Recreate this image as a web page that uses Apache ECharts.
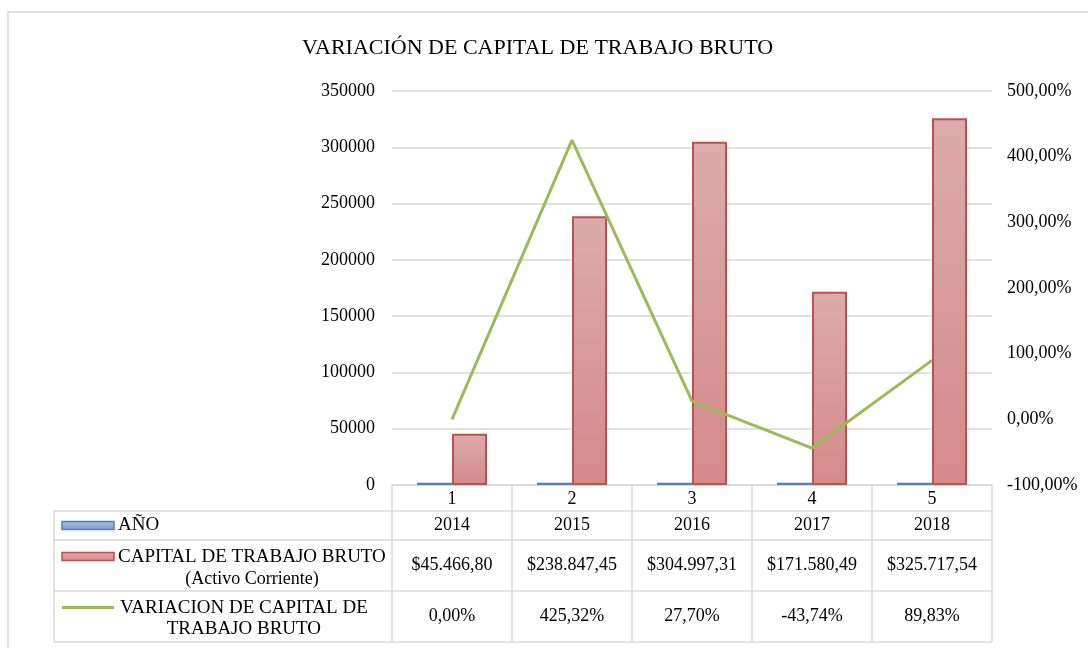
<!DOCTYPE html>
<html>
<head>
<meta charset="utf-8">
<script src="https://cdn.jsdelivr.net/npm/echarts@6/dist/echarts.min.js"></script>
<style>
  html, body { margin: 0; padding: 0; background: #ffffff; }
  #chart { width: 1088px; height: 648px; }
</style>
</head>
<body>
<div id="chart"></div>
<script>
// Chart data
const categories = ['1', '2', '3', '4', '5'];
const years = [2014, 2015, 2016, 2017, 2018];
const capital = [45466.80, 238847.45, 304997.31, 171580.49, 325717.54];
const variation = [0.00, 425.32, 27.70, -43.74, 89.83];

const titleText = 'VARIACIÓN DE CAPITAL DE TRABAJO BRUTO';
const seriesNames = ['AÑO', 'CAPITAL DE TRABAJO BRUTO', 'VARIACION DE CAPITAL DE TRABAJO BRUTO'];

const FONT = '"Liberation Serif", "Times New Roman", serif';
const GRID_COLOR = '#d9d9d9';

function money(v) {
  const parts = v.toFixed(2).split('.');
  return '$' + parts[0].replace(/\B(?=(\d{3})+(?!\d))/g, '.') + ',' + parts[1];
}
function pct(v) {
  return v.toFixed(2).replace('.', ',') + '%';
}

const ctx = document.createElement('canvas').getContext('2d');
function textWidth(str, size) {
  ctx.font = size + 'px ' + FONT;
  return ctx.measureText(str).width;
}

const blueFill = new echarts.graphic.LinearGradient(0, 0, 0, 1, [
  { offset: 0, color: '#a9c0df' }, { offset: 1, color: '#7e9dd0' }
]);
const redFill = new echarts.graphic.LinearGradient(0, 0, 0, 1, [
  { offset: 0, color: '#dcabab' }, { offset: 1, color: '#d48a8a' }
]);

const chart = echarts.init(document.getElementById('chart'), null, { renderer: 'canvas' });

const TITLE_SIZE = 22;
const titleCenter = 538;

chart.setOption({
  animation: false,
  backgroundColor: '#ffffff',
  title: {
    text: titleText,
    padding: 0,
    left: Math.round(titleCenter - textWidth(titleText, TITLE_SIZE) / 2),
    top: 37,
    textStyle: { fontFamily: FONT, fontSize: TITLE_SIZE, fontWeight: 'normal', color: '#000' }
  },
  grid: { left: 392, right: 96, top: 91, bottom: 163, containLabel: false },
  xAxis: {
    type: 'category',
    data: categories,
    axisLine: { show: true, lineStyle: { color: GRID_COLOR, width: 1.5 } },
    axisTick: { show: true, length: 157, interval: 0, lineStyle: { color: GRID_COLOR, width: 1.5 } },
    axisLabel: { margin: 5, fontFamily: FONT, fontSize: 18, color: '#000' }
  },
  yAxis: [
    {
      type: 'value', min: 0, max: 350000, interval: 50000,
      axisLine: { show: false }, axisTick: { show: false },
      splitLine: { show: true, lineStyle: { color: GRID_COLOR, width: 1.5 } },
      axisLabel: { margin: 17, fontFamily: FONT, fontSize: 18, color: '#000', formatter: v => String(v) }
    },
    {
      type: 'value', min: -100, max: 500, interval: 100,
      axisLine: { show: false }, axisTick: { show: false },
      splitLine: { show: false },
      axisLabel: { margin: 15, fontFamily: FONT, fontSize: 18, color: '#000', formatter: v => pct(v) }
    }
  ],
  series: [
    {
      name: seriesNames[0], type: 'bar', yAxisIndex: 0, data: years,
      barWidth: 35, barGap: '0%',
      itemStyle: { color: blueFill, borderColor: '#4f81bd', borderWidth: 1.5 }
    },
    {
      name: seriesNames[1], type: 'bar', yAxisIndex: 0, data: capital,
      barWidth: 35, barGap: '0%',
      itemStyle: { color: redFill, borderColor: '#c0504d', borderWidth: 2 }
    },
    {
      name: seriesNames[2], type: 'line', yAxisIndex: 1, data: variation,
      symbol: 'none', z: 5,
      lineStyle: { color: '#9bbb59', width: 3 }
    }
  ]
});

// Data table under the plot, positioned from the axes
const x0 = chart.convertToPixel({ xAxisIndex: 0 }, categories[0]);
const x1 = chart.convertToPixel({ xAxisIndex: 0 }, categories[1]);
const band = x1 - x0;
const plotLeft = x0 - band / 2;
const plotRight = plotLeft + band * categories.length;
const axisY = chart.convertToPixel({ yAxisIndex: 0 }, 0);

const rowBottoms = [axisY + 26, axisY + 55, axisY + 106, axisY + 157];
const tableLeft = 54;
const keyLeft = 62, keyWidth = 52, textLeft = 118;
const LEG_SIZE = 19;

const graphics = [];
const lineStyle = { stroke: GRID_COLOR, lineWidth: 1.5 };

// outer chart frame
graphics.push({ type: 'rect', shape: { x: 8, y: 12, width: 1200, height: 800 },
  style: { fill: null, stroke: GRID_COLOR, lineWidth: 1.5 }, silent: true });

// horizontal rules of the table
rowBottoms.forEach(y => {
  graphics.push({ type: 'line', shape: { x1: tableLeft, y1: y, x2: plotRight, y2: y }, style: lineStyle });
});
graphics.push({ type: 'line', shape: { x1: tableLeft, y1: rowBottoms[0], x2: tableLeft, y2: rowBottoms[3] }, style: lineStyle });

// cell values
const rows = [
  years.map(String),
  capital.map(money),
  variation.map(pct)
];
rows.forEach((vals, r) => {
  const yc = (rowBottoms[r] + rowBottoms[r + 1]) / 2;
  vals.forEach((s, i) => {
    const xc = chart.convertToPixel({ xAxisIndex: 0 }, categories[i]);
    graphics.push({ type: 'text', x: xc, y: yc,
      style: { text: s, font: '18px ' + FONT, fill: '#000', align: 'center', verticalAlign: 'middle' } });
  });
});

// legend keys and series names in the first column
function keyY(r) { return (rowBottoms[r] + rowBottoms[r + 1]) / 2; }

// row 1
let ky = keyY(0);
graphics.push({ type: 'rect', shape: { x: keyLeft, y: ky - 4, width: keyWidth, height: 8 },
  style: { fill: blueFill, stroke: '#4f81bd', lineWidth: 1.5 } });
graphics.push({ type: 'text', x: textLeft, y: ky,
  style: { text: seriesNames[0], font: LEG_SIZE + 'px ' + FONT, fill: '#000', align: 'left', verticalAlign: 'middle' } });

// row 2
ky = keyY(1) - 9;
graphics.push({ type: 'rect', shape: { x: keyLeft, y: ky - 4, width: keyWidth, height: 8 },
  style: { fill: redFill, stroke: '#c0504d', lineWidth: 1.5 } });
const l2a = seriesNames[1];
const l2b = '(Activo Corriente)';
const w2 = textWidth(l2a, LEG_SIZE);
graphics.push({ type: 'text', x: textLeft, y: ky + 1,
  style: { text: l2a, font: LEG_SIZE + 'px ' + FONT, fill: '#000', align: 'left', verticalAlign: 'middle' } });
graphics.push({ type: 'text', x: textLeft + w2 / 2, y: ky + 23,
  style: { text: l2b, font: '18px ' + FONT, fill: '#000', align: 'center', verticalAlign: 'middle' } });

// row 3
ky = keyY(2) - 9;
graphics.push({ type: 'line', shape: { x1: keyLeft, y1: ky, x2: keyLeft + keyWidth, y2: ky },
  style: { stroke: '#9bbb59', lineWidth: 3 } });
const l3a = 'VARIACION DE CAPITAL DE';
const l3b = 'TRABAJO BRUTO';
const w3 = textWidth(l3a, LEG_SIZE);
graphics.push({ type: 'text', x: textLeft + 2, y: ky + 1,
  style: { text: l3a, font: LEG_SIZE + 'px ' + FONT, fill: '#000', align: 'left', verticalAlign: 'middle' } });
graphics.push({ type: 'text', x: textLeft + 2 + w3 / 2, y: ky + 22,
  style: { text: l3b, font: LEG_SIZE + 'px ' + FONT, fill: '#000', align: 'center', verticalAlign: 'middle' } });

chart.setOption({ graphic: graphics });
</script>
</body>
</html>
